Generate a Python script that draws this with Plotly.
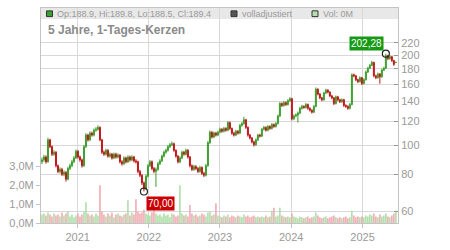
import math
import plotly.graph_objects as go
import pandas as pd

# ---------------- data ----------------
start_date, end_date, n_candles = "2020-07-02", "2025-06-21", 178

close = [89.3, 91.3, 88.0, 104.2, 98.9, 93.3, 94.7, 85.4, 81.7, 83.0,
         79.9, 81.1, 77.0, 83.6, 85.4, 88.0, 90.6, 95.4, 91.3, 89.3,
         85.4, 98.9, 108.1, 104.2, 109.7, 108.1, 112.2, 113.0, 114.7, 104.2,
         94.7, 93.3, 96.1, 91.9, 93.3, 90.6, 93.3, 91.3, 92.6, 88.0,
         86.7, 90.6, 88.0, 91.3, 89.3, 91.3, 88.6, 88.0, 81.7, 79.3,
         74.8, 71.4, 78.7, 85.4, 88.0, 83.6, 81.7, 83.0, 86.7, 88.6,
         91.9, 94.7, 96.1, 98.9, 100.4, 101.1, 96.1, 91.9, 88.0, 90.6,
         94.7, 93.3, 96.1, 91.3, 85.4, 83.0, 84.8, 83.6, 81.7, 84.2,
         80.5, 79.3, 85.4, 101.9, 110.5, 106.5, 109.7, 108.1, 110.5, 113.0,
         111.3, 113.8, 112.2, 119.0, 113.8, 109.7, 108.1, 111.3, 109.7, 116.4,
         118.1, 121.6, 114.7, 108.1, 105.7, 102.6, 100.4, 104.2, 108.1, 107.3,
         113.0, 114.7, 112.2, 115.5, 113.8, 117.2, 115.5, 118.1, 125.2, 137.8,
         135.8, 138.8, 136.8, 140.9, 143.0, 122.5, 125.2, 126.1, 128.0, 132.8,
         134.8, 133.8, 136.8, 132.8, 130.9, 129.0, 134.8, 153.9, 148.3, 144.0,
         141.9, 149.4, 152.8, 150.5, 146.2, 144.0, 137.8, 145.1, 141.9, 139.8,
         141.9, 135.8, 134.8, 132.8, 136.8, 171.9, 170.6, 165.6, 163.2, 168.1,
         160.8, 165.6, 175.7, 180.9, 185.0, 189.1, 170.6, 168.1, 173.1, 169.3,
         178.3, 180.9, 199.1, 194.8, 197.7, 191.9, 186.3, 189.4]

open_ = [88.0, 89.3, 91.3, 88.0, 104.2, 98.9, 93.3, 94.7, 85.4, 81.7,
         83.0, 79.9, 81.1, 77.0, 83.6, 85.4, 88.0, 90.6, 95.4, 91.3,
         89.3, 85.4, 98.9, 108.1, 104.2, 109.7, 108.1, 112.2, 113.0, 114.7,
         104.2, 94.7, 93.3, 96.1, 91.9, 93.3, 90.6, 93.3, 91.3, 92.6,
         88.0, 86.7, 90.6, 88.0, 91.3, 89.3, 91.3, 88.6, 88.0, 81.7,
         79.3, 74.8, 71.4, 78.7, 85.4, 88.0, 83.6, 81.7, 83.0, 86.7,
         88.6, 91.9, 94.7, 96.1, 98.9, 100.4, 101.1, 96.1, 91.9, 88.0,
         90.6, 94.7, 93.3, 96.1, 91.3, 85.4, 83.0, 84.8, 83.6, 81.7,
         84.2, 80.5, 79.3, 85.4, 101.9, 110.5, 106.5, 109.7, 108.1, 110.5,
         113.0, 111.3, 113.8, 112.2, 119.0, 113.8, 109.7, 108.1, 111.3, 109.7,
         116.4, 118.1, 121.6, 114.7, 108.1, 105.7, 102.6, 100.4, 104.2, 108.1,
         107.3, 113.0, 114.7, 112.2, 115.5, 113.8, 117.2, 115.5, 118.1, 125.2,
         137.8, 135.8, 138.8, 136.8, 140.9, 143.0, 122.5, 125.2, 126.1, 128.0,
         132.8, 134.8, 133.8, 136.8, 132.8, 130.9, 129.0, 134.8, 153.9, 148.3,
         144.0, 141.9, 149.4, 152.8, 150.5, 146.2, 144.0, 137.8, 145.1, 141.9,
         139.8, 141.9, 135.8, 134.8, 132.8, 136.8, 171.9, 170.6, 165.6, 163.2,
         168.1, 160.8, 165.6, 175.7, 180.9, 185.0, 189.1, 170.6, 168.1, 173.1,
         169.3, 178.3, 180.9, 199.1, 194.8, 197.7, 191.9, 188.9]

high = [91.0, 92.8, 92.5, 106.0, 105.0, 99.8, 96.2, 95.5, 86.2, 84.3,
        84.0, 82.4, 81.9, 84.7, 86.8, 89.4, 92.0, 96.8, 96.3, 92.4,
        90.2, 100.2, 109.8, 109.2, 111.2, 111.0, 113.8, 114.9, 116.5, 115.6,
        105.0, 96.0, 97.4, 97.0, 94.6, 94.2, 94.5, 94.3, 93.9, 93.4,
        89.1, 91.8, 91.5, 92.5, 92.3, 92.6, 92.1, 89.8, 88.8, 82.6,
        80.0, 75.6, 79.8, 86.6, 89.2, 88.9, 84.5, 84.2, 87.9, 89.8,
        93.1, 95.9, 97.4, 100.2, 101.8, 102.8, 102.0, 96.9, 92.7, 91.8,
        95.9, 95.7, 97.4, 97.0, 92.0, 86.3, 86.0, 85.8, 84.5, 85.3,
        85.0, 81.4, 86.5, 103.3, 112.0, 111.4, 111.0, 110.8, 111.8, 114.4,
        114.0, 115.2, 114.8, 120.5, 119.9, 114.6, 110.8, 112.6, 112.3, 117.8,
        119.5, 124.5, 122.5, 115.6, 109.1, 106.6, 103.5, 105.4, 109.3, 109.2,
        114.3, 116.0, 115.6, 116.8, 116.5, 118.6, 118.2, 119.4, 126.6, 139.4,
        139.0, 140.4, 140.0, 142.5, 144.8, 144.0, 126.8, 127.7, 129.6, 134.4,
        136.5, 136.0, 138.4, 137.8, 134.0, 131.9, 136.3, 156.0, 155.0, 149.4,
        145.1, 151.0, 154.5, 153.9, 151.5, 147.3, 145.0, 146.6, 146.2, 143.0,
        143.4, 142.9, 137.0, 136.0, 138.3, 173.8, 173.6, 171.8, 166.9, 169.9,
        169.2, 167.4, 177.6, 182.9, 187.0, 191.5, 190.2, 172.0, 174.9, 174.3,
        180.2, 182.8, 202.28, 200.5, 199.6, 198.8, 193.0, 189.8]

low = [86.5, 88.0, 86.8, 87.5, 97.8, 92.0, 92.1, 84.3, 80.6, 80.4,
       78.9, 78.7, 75.6, 76.3, 82.5, 84.4, 87.1, 89.8, 90.2, 88.0,
       84.1, 84.6, 97.9, 102.8, 103.2, 106.8, 107.0, 110.8, 111.9, 103.0,
       93.4, 92.1, 92.4, 90.8, 90.9, 89.5, 89.8, 90.2, 90.3, 86.9,
       85.4, 85.9, 86.9, 87.2, 88.1, 88.4, 87.5, 86.8, 80.6, 78.2,
       73.6, 70.0, 70.8, 78.0, 84.5, 82.5, 80.6, 72.5, 82.1, 85.8,
       87.8, 91.0, 93.6, 95.2, 97.8, 99.3, 95.0, 90.8, 86.9, 87.1,
       89.8, 92.2, 92.4, 90.2, 84.3, 82.0, 82.1, 82.6, 80.7, 80.9,
       79.5, 78.2, 78.6, 84.7, 101.0, 105.3, 105.6, 106.9, 107.2, 109.6,
       110.1, 110.4, 111.0, 111.4, 112.5, 108.4, 106.9, 107.2, 108.5, 108.9,
       115.3, 117.1, 113.4, 106.8, 104.5, 101.4, 99.0, 99.5, 103.3, 106.1,
       106.4, 112.0, 111.0, 111.3, 112.6, 112.9, 114.3, 114.6, 117.2, 124.3,
       134.2, 134.6, 135.3, 135.7, 139.6, 121.0, 121.3, 124.0, 119.0, 127.0,
       131.6, 132.4, 132.6, 131.4, 129.6, 127.6, 128.0, 133.9, 146.8, 142.5,
       140.3, 140.8, 148.2, 149.0, 144.8, 142.4, 136.2, 136.8, 140.4, 138.3,
       138.6, 134.3, 133.4, 131.3, 131.8, 135.9, 168.8, 163.8, 161.3, 162.0,
       158.9, 159.6, 164.5, 174.5, 179.6, 183.8, 168.7, 166.3, 166.9, 160.5,
       168.1, 177.0, 179.8, 192.7, 193.4, 189.8, 184.3, 188.5]

volume_m = [0.45, 0.5, 0.4, 0.55, 0.45, 0.35, 0.5, 0.4, 0.45, 0.35,
            0.55, 0.4, 0.5, 0.6, 0.35, 0.45, 0.3, 0.4, 0.5, 0.35,
            0.45, 0.6, 1.1, 0.5, 0.4, 0.45, 0.35, 0.5, 0.4, 2.0,
            0.6, 0.45, 0.35, 0.5, 0.4, 0.55, 0.3, 0.45, 0.5, 0.4,
            0.35, 0.45, 0.5, 1.2, 0.4, 0.55, 0.45, 1.25, 0.6, 0.5,
            0.55, 0.7, 0.5, 0.45, 0.4, 0.55, 0.95, 0.5, 0.4, 0.45,
            0.35, 0.5, 0.4, 0.45, 0.3, 0.5, 0.45, 0.35, 0.4, 2.0,
            0.5, 0.4, 0.45, 0.35, 0.95, 0.5, 0.4, 0.45, 0.35, 0.4,
            0.5, 0.45, 0.35, 0.55, 0.6, 0.4, 0.45, 1.05, 0.4, 0.35,
            0.3, 0.4, 0.35, 0.45, 0.3, 0.4, 0.35, 0.3, 0.4, 0.35,
            0.3, 0.45, 0.35, 0.4, 0.3, 0.35, 0.4, 0.3, 0.35, 0.3,
            0.35, 0.3, 0.4, 0.3, 0.35, 0.65, 0.8, 0.35, 0.4, 0.8,
            0.4, 0.35, 0.3, 0.35, 0.3, 0.5, 0.35, 0.3, 0.25, 0.35,
            0.3, 0.25, 0.3, 0.35, 0.25, 0.3, 0.35, 0.55, 0.4, 0.3,
            0.25, 0.3, 0.35, 0.25, 0.3, 0.35, 0.4, 0.3, 0.25, 0.3,
            0.25, 0.3, 0.35, 0.25, 0.3, 0.65, 0.4, 0.3, 0.35, 0.3,
            0.35, 0.3, 0.4, 0.35, 0.45, 0.4, 0.5, 0.35, 0.3, 0.45,
            0.35, 0.4, 0.5, 0.35, 0.3, 0.4, 0.5, 0.65]

year_ticks = ["2021-01-01", "2022-01-01", "2023-01-01", "2024-01-01", "2025-01-01"]
year_labels = ["2021", "2022", "2023", "2024", "2025"]
price_ticks = [60, 80, 100, 120, 140, 160, 180, 200, 220]
vol_ticks = [0, 1, 2, 3]
vol_labels = ["0,0M", "1,0M", "2,0M", "3,0M"]

title_text = "5 Jahre, 1-Tages-Kerzen"
legend_ohlc = "Op:188.9, Hi:189.8, Lo:188.5, Cl:189.4"
legend_adj = "volladjustiert"
legend_vol = "Vol: 0M"

# ---------------- styling ----------------
UP = "#3c9f2d"
DOWN = "#c2161b"
VOL_UP = "#a9dca2"
VOL_DOWN = "#f0a6ae"
GRID = "#d8d8d8"
AXIS = "#c4c4c4"
TXT = "#9a9a9a"
FONT = "Liberation Sans, Arial, sans-serif"

W, H = 450, 250
L, R, T, B = 41, 52, 7, 18
PW, PH = W - L - R, H - T - B


def px(x):
    return (x - L) / PW


def py(y):
    return 1 - (y - T) / PH


dates = pd.date_range(start_date, end_date, periods=n_candles)
vol_colors = [VOL_UP if c >= o else VOL_DOWN for o, c in zip(open_, close)]

fig = go.Figure()

fig.add_trace(go.Bar(
    x=dates, y=volume_m, marker=dict(color=vol_colors, line=dict(width=0)),
    xaxis="x", yaxis="y", hoverinfo="skip", showlegend=False,
))

fig.add_trace(go.Candlestick(
    x=dates, open=open_, high=high, low=low, close=close,
    increasing=dict(line=dict(color=UP, width=1), fillcolor=UP),
    decreasing=dict(line=dict(color=DOWN, width=1), fillcolor=DOWN),
    whiskerwidth=0, xaxis="x", yaxis="y2", showlegend=False, hoverinfo="skip",
))

i_hi = high.index(max(high))
i_lo = low.index(min(low))
fig.add_trace(go.Scatter(
    x=[dates[i_hi], dates[i_lo]], y=[high[i_hi], low[i_lo]], mode="markers",
    marker=dict(symbol="circle-open", size=7, color="#222222", line=dict(width=1.2)),
    xaxis="x", yaxis="y2", showlegend=False, hoverinfo="skip",
))

fmt = lambda v: f"{v:.2f}".replace(".", ",")
annotations = [
    dict(x=dates[i_hi], y=math.log10(high[i_hi]), xref="x", yref="y2",
         text=fmt(high[i_hi]), showarrow=False, xanchor="right", yanchor="bottom",
         xshift=-2, yshift=3, bgcolor="#169a16", borderpad=1,
         font=dict(color="white", size=10, family=FONT)),
    dict(x=dates[i_lo], y=math.log10(low[i_lo]), xref="x", yref="y2",
         text=fmt(low[i_lo]), showarrow=False, xanchor="left", yanchor="top",
         xshift=2, yshift=-4, bgcolor="#cc0000", borderpad=1,
         font=dict(color="white", size=10, family=FONT)),
    dict(x=px(46), y=py(30), xref="paper", yref="paper", text="<b>" + title_text + "</b>",
         showarrow=False, xanchor="left", yanchor="middle",
         font=dict(color="#8a8a8a", size=12, family=FONT)),
    dict(x=px(55), y=py(13), xref="paper", yref="paper", text=legend_ohlc,
         showarrow=False, xanchor="left", yanchor="middle",
         font=dict(color=TXT, size=9, family=FONT)),
    dict(x=px(240), y=py(13), xref="paper", yref="paper", text=legend_adj,
         showarrow=False, xanchor="left", yanchor="middle",
         font=dict(color=TXT, size=9, family=FONT)),
    dict(x=px(321), y=py(13), xref="paper", yref="paper", text=legend_vol,
         showarrow=False, xanchor="left", yanchor="middle",
         font=dict(color=TXT, size=9, family=FONT)),
]

shapes = [
    dict(type="rect", xref="paper", yref="paper", x0=0, x1=1, y0=py(18.5), y1=1,
         fillcolor="#e8e8e8", line=dict(width=0), layer="below"),
    dict(type="rect", xref="paper", yref="paper", x0=px(46.5), x1=px(52.5), y0=py(16), y1=py(10),
         fillcolor="#3aa030", line=dict(color="#333", width=1)),
    dict(type="rect", xref="paper", yref="paper", x0=px(231), x1=px(237), y0=py(16), y1=py(10),
         fillcolor="#555555", line=dict(color="#333", width=1)),
    dict(type="rect", xref="paper", yref="paper", x0=px(312), x1=px(318), y0=py(16), y1=py(10),
         fillcolor="#b5e0ae", line=dict(color="#333", width=1)),
]

fig.update_layout(
    width=W, height=H, margin=dict(l=L, r=R, t=T, b=B, pad=0),
    paper_bgcolor="white", plot_bgcolor="white",
    font=dict(family=FONT, color=TXT, size=11),
    showlegend=False, hovermode=False, bargap=0.25,
    annotations=annotations, shapes=shapes,
    xaxis=dict(
        type="date", range=["2020-06-27", "2025-07-02"],
        tickvals=year_ticks, ticktext=year_labels,
        showgrid=True, gridcolor=GRID, gridwidth=1,
        showline=True, linecolor=AXIS, linewidth=1, mirror=True,
        ticks="outside", ticklen=4, tickcolor=AXIS,
        tickfont=dict(size=11, color=TXT), rangeslider=dict(visible=False),
        zeroline=False, fixedrange=True,
    ),
    yaxis=dict(
        range=[0, 11.36], tickvals=vol_ticks, ticktext=vol_labels,
        showgrid=False, zeroline=False, side="left",
        showline=True, linecolor=AXIS, linewidth=1,
        ticks="outside", ticklen=4, tickcolor=AXIS,
        tickfont=dict(size=11, color=TXT), fixedrange=True,
    ),
    yaxis2=dict(
        type="log", range=[1.73980, 2.45883], overlaying="y", side="right",
        tickvals=price_ticks, ticktext=[str(v) for v in price_ticks],
        showgrid=True, gridcolor=GRID, gridwidth=1, zeroline=False,
        showline=True, linecolor=AXIS, linewidth=1,
        ticks="inside", ticklen=4, tickcolor="#999",
        tickfont=dict(size=11, color=TXT), fixedrange=True,
    ),
)

fig.write_html("out.html", config={"displayModeBar": False, "staticPlot": True})
